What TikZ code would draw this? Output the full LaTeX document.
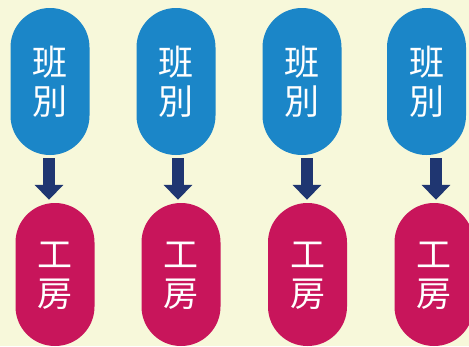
\documentclass[tikz,border=0pt]{standalone}
\usepackage{fontspec}
\newfontfamily\cjk{Noto Sans CJK JP}
\usetikzlibrary{arrows.meta}
\definecolor{bgyellow}{HTML}{F7F8DA}
\definecolor{hanblue}{HTML}{1B86C8}
\definecolor{kobored}{HTML}{C8155B}
\definecolor{arrownavy}{HTML}{1F3671}
\tikzset{
	pill/.style={minimum width=79pt,minimum height=147pt,rounded corners=39.4pt,inner sep=0pt,
		text=white,align=center,font=\cjk\fontsize{35}{39}\selectfont},
	flow/.style={arrownavy,line width=12pt,-{Triangle[width=28pt,length=15pt]},shorten <=3pt,shorten >=3pt}
}

\begin{document}
\begin{tikzpicture}[x=1pt,y=-1pt]
		\fill[bgyellow] (0,0) rectangle (469,346);
		\useasboundingbox (0,0) rectangle (469,346);
		\foreach \i/\bx/\rx/\ax in {1/50/55/49,2/176/181/178,3/302/307.5/307,4/426.5/434/436} % edit here for the columns
		{
		\node[pill,fill=hanblue] (b\i) at (\bx,81.5) {班\\別};
		\node[pill,fill=kobored,minimum height=143pt,text depth=-12pt] (r\i) at (\rx,274.5) {工\\房};
		\coordinate (a\i) at (\ax,0);
		\draw[flow] (a\i |- b\i.south) -- (a\i |- r\i.north);
		}
		\end{tikzpicture}
\end{document}
